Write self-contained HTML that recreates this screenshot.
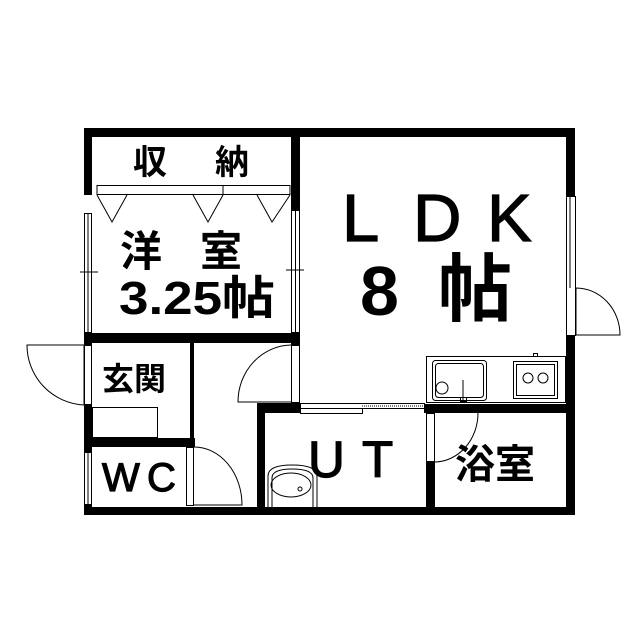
<!DOCTYPE html>
<html><head><meta charset="utf-8"><style>
html,body{margin:0;padding:0;background:#fff}
svg{display:block}
text{font-family:"Liberation Sans","Noto Sans CJK JP",sans-serif;fill:#000}
.j{font-weight:bold}
.l{stroke:#000;stroke-width:1.2}
</style></head><body>
<svg width="640" height="640" viewBox="0 0 640 640" xmlns="http://www.w3.org/2000/svg">
<rect width="640" height="640" fill="#fff"/>
<g fill="#000">
<rect x="84" y="128" width="490" height="9"/>
<rect x="84" y="128" width="8" height="67"/>
<rect x="566" y="128" width="9" height="68"/>
<rect x="566" y="336" width="9" height="179"/>
<rect x="84" y="507" width="491" height="8"/>
<rect x="84" y="333" width="8" height="12"/>
<rect x="84" y="405" width="8" height="47"/>
<rect x="84" y="505" width="8" height="4"/>
<rect x="291" y="128" width="9" height="82"/>
<rect x="291" y="332" width="9" height="13"/>
<rect x="84" y="333" width="216" height="10"/>
<rect x="190" y="343" width="4" height="95"/>
<rect x="84" y="438" width="111" height="9"/>
<rect x="257" y="403" width="43" height="10"/>
<rect x="257" y="403" width="8" height="106"/>
<rect x="424" y="404" width="150" height="9"/>
<rect x="426" y="462" width="9" height="47"/>
</g>
<g fill="none" stroke="#000" stroke-width="1">
<rect x="97" y="185.5" width="193" height="9"/>
<line x1="223" y1="185.5" x2="223" y2="194.5"/>
<polyline points="97,195 112,222 127,195"/>
<polyline points="193,195 208,222 223,195"/>
<polyline points="257,195 272,222 290,195"/>
<rect x="84.5" y="213.5" width="7" height="119"/>
<line x1="88" y1="213" x2="88" y2="332"/>
<line x1="80" y1="272" x2="98" y2="272"/>
<rect x="291.5" y="210.5" width="8" height="122"/>
<line x1="295.5" y1="210" x2="295.5" y2="332"/>
<line x1="286" y1="270" x2="304" y2="270"/>
<rect x="84.5" y="345.5" width="7" height="59"/>
<path d="M84,405 L84,345 M84,405 A60,60 0 0 1 27,345 L84,345"/>
<rect x="92.5" y="407.5" width="65" height="30"/>
<rect x="84.5" y="452.5" width="7" height="52"/>
<line x1="88" y1="452" x2="88" y2="505"/>
<rect x="186.5" y="447.5" width="7" height="58"/>
<path d="M194,447 A48,58 0 0 1 242,505 L194,505"/>
<rect x="291.5" y="345.5" width="8" height="57"/>
<path d="M291,345 A54,57 0 0 0 238,402 L291,402"/>
<rect x="300.5" y="403.5" width="124" height="5"/>
<rect x="300.5" y="408.5" width="62" height="5"/>
<line x1="362" y1="406" x2="424" y2="406" stroke-dasharray="1,1"/>
<rect x="426.5" y="413.5" width="8" height="48"/>
<path d="M435,462 A44,49 0 0 0 478,413"/>
<rect x="426.5" y="356.5" width="139" height="46"/>
<rect x="432.5" y="360.5" width="54" height="40" rx="3"/>
<rect x="435.5" y="363.5" width="48" height="34" rx="3"/>
<circle cx="442" cy="388" r="6"/>
<line x1="463" y1="380" x2="463" y2="400"/>
<rect x="460.5" y="397.5" width="6" height="4"/>
<rect x="513.5" y="361.5" width="44" height="37"/>
<rect x="516.5" y="364.5" width="38" height="31"/>
<circle cx="528" cy="378" r="5"/>
<circle cx="543" cy="378" r="5"/>
<rect x="533.5" y="353.5" width="4" height="3"/>
<rect x="566.5" y="196.5" width="9" height="139"/>
<line x1="570" y1="196" x2="570" y2="288"/>
<path d="M576,288 L576,335 L620,335 A44,47 0 0 0 576,288"/>
<path d="M268,507 L268,476 Q268,465 292,465 Q317,465 317,476 L317,507"/>
<ellipse cx="291" cy="485" rx="20" ry="12"/>
<path d="M272,507 L272,478 Q272,469 292,469 Q313,469 313,478 L313,507"/>
<circle cx="300" cy="489" r="2"/>
</g>
<text class="j" x="133" y="174" font-size="34">収</text>
<text class="j" x="215" y="174" font-size="34">納</text>
<text class="j" x="120" y="266" font-size="42">洋</text>
<text class="j" x="200" y="266" font-size="42">室</text>
<text class="j" x="119" y="314" font-size="46" textLength="156" lengthAdjust="spacingAndGlyphs">3.25帖</text>
<text class="l" x="342" y="241" font-size="67">L</text>
<text class="l" x="413" y="241" font-size="67">D</text>
<text class="l" x="487" y="241" font-size="67">K</text>
<text class="j" x="360" y="315" font-size="70">8</text>
<text class="j" x="438" y="315" font-size="74">帖</text>
<text class="j" x="102" y="390" font-size="32">玄関</text>
<text class="l" x="102" y="491" font-size="40">W</text>
<text class="l" x="147" y="491" font-size="40">C</text>
<text class="l" x="308" y="477" font-size="51">U</text>
<text class="l" x="362" y="477" font-size="51">T</text>
<text class="j" x="455" y="478" font-size="40">浴室</text>
</svg>
</body></html>
